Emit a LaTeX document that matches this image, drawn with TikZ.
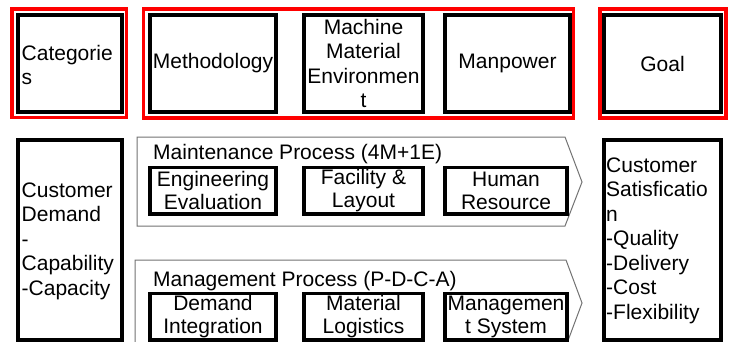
\documentclass[tikz,border=0pt]{standalone}
\usepackage{fontspec}
\setmainfont{Liberation Sans}
\newcommand{\fsz}{\fontsize{21}{24.5}\selectfont}
\newcommand{\fsy}{\fontsize{21}{23}\selectfont}
\begin{document}
\begin{tikzpicture}[x=1pt,y=-1pt,
  redbox/.style={draw=red, line width=3.8pt, inner sep=0pt},
  blkbox/.style={draw=black, line width=3.5pt, inner sep=0pt, align=center, font=\fsz},
  smallbox/.style={draw=black, line width=3.5pt, inner sep=0pt, align=center, font=\fsy},
  txt/.style={inner sep=0pt, font=\fsz},
  procshape/.style={draw=black!55, line width=1pt}]
\useasboundingbox (0,0) rectangle (730,342);
\clip (0,0) rectangle (730,342);
\fill[white] (0,0) rectangle (730,342);
% process arrows
\coordinate (m1) at (137,137);
\coordinate (m2) at (565,137);
\coordinate (m3) at (582,182);
\coordinate (m4) at (565,226);
\coordinate (m5) at (137,226);
\draw[procshape] (m1) -- (m2) -- (m3) -- (m4) -- (m5) -- cycle;
\coordinate (g1) at (135,260);
\coordinate (g2) at (566,260);
\coordinate (g3) at (582,303);
\coordinate (g4) at (566,346);
\coordinate (g5) at (135,346);
\draw[procshape] (g1) -- (g2) -- (g3) -- (g4) -- (g5) -- cycle;
% red frames
\node[redbox, minimum width=114.5pt, minimum height=108.5pt] (catred) at (69.25,63.25) {};
\node[redbox, minimum width=430pt, minimum height=109pt] (midred) at (358.5,63.5) {};
\node[redbox, minimum width=126pt, minimum height=109pt] (goalred) at (663,63.5) {};
% top row boxes
\node[blkbox, minimum width=104pt, minimum height=97pt] (cat) at (70,63.5) {};
\node[txt, anchor=west, align=left] (cattxt) at (21.5,65) {Categorie\\s};
\node[blkbox, minimum width=126pt, minimum height=97pt] (meth) at (213,63.5) {Methodology};
\node[blkbox, minimum width=119pt, minimum height=97pt] (mme) at (363.5,63.5) {Machine\\Material\\Environmen\\t};
\node[blkbox, minimum width=125pt, minimum height=97pt] (man) at (507.5,63.5) {Manpower};
\node[blkbox, minimum width=117pt, minimum height=97pt] (goal) at (662.5,63.5) {Goal};
% bottom left / right
\node[blkbox, minimum width=104pt, minimum height=200pt] (cd) at (70,240) {};
\node[txt, anchor=west, align=left] (cdtxt) at (21.5,241) {Customer\\Demand\\-\\Capability\\-Capacity};
\node[blkbox, minimum width=117pt, minimum height=200pt] (cs) at (662.5,240) {};
\node[txt, anchor=west, align=left] (cstxt) at (606,240.5) {Customer\\Satisficatio\\n\\-Quality\\-Delivery\\-Cost\\-Flexibility};
% process titles
\node[txt, anchor=base west] (mtitle) at (153,159) {Maintenance Process (4M+1E)};
\node[txt, anchor=base west] (gtitle) at (153,286) {Management Process (P-D-C-A)};
% inner boxes
\node[smallbox, minimum width=126pt, minimum height=46.5pt] (eng) at (213,190.75) {Engineering\\Evaluation};
\node[smallbox, minimum width=119pt, minimum height=46.5pt] (fac) at (363.5,190.75) {Facility \&\\Layout};
\node[smallbox, minimum width=122pt, minimum height=46.5pt] (hum) at (506,190.75) {Human\\Resource};
\node[smallbox, minimum width=126pt, minimum height=46.5pt] (dem) at (213,316.75) {Demand\\Integration};
\node[smallbox, minimum width=119pt, minimum height=46.5pt] (mat) at (363.5,316.75) {Material\\Logistics};
\node[smallbox, minimum width=122pt, minimum height=46.5pt] (msys) at (506,316.75) {Managemen\\t System};
\end{tikzpicture}
\end{document}
